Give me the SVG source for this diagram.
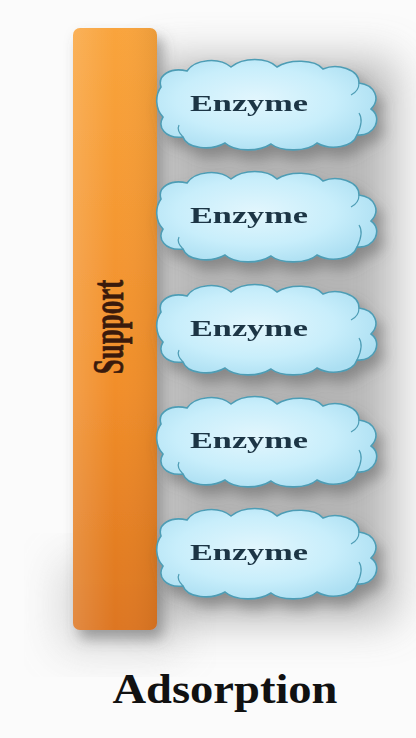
<svg xmlns="http://www.w3.org/2000/svg" width="416" height="738" viewBox="0 0 416 738">
<defs>
<style>
.enz{font-family:"Liberation Serif","DejaVu Serif",serif;font-weight:bold;font-size:24px;fill:#1C3545;}
.cloud{fill:url(#cg);stroke:#4E9DB5;stroke-width:1.6;}
.curl{fill:none;stroke:#4E9DB5;stroke-width:1.2;}
</style>
<linearGradient id="bar" x1="0" y1="0" x2="0" y2="1">
<stop offset="0" stop-color="#F9A43C"/>
<stop offset="0.6" stop-color="#F18E2A"/>
<stop offset="1" stop-color="#DD7620"/>
</linearGradient>
<linearGradient id="barh" x1="0" y1="0" x2="1" y2="0">
<stop offset="0" stop-color="#FFFFFF" stop-opacity="0.15"/>
<stop offset="0.5" stop-color="#FFFFFF" stop-opacity="0"/>
<stop offset="1" stop-color="#000000" stop-opacity="0.06"/>
</linearGradient>
<radialGradient id="cg" cx="0.45" cy="0.45" r="0.6">
<stop offset="0" stop-color="#E2F6FD"/>
<stop offset="0.6" stop-color="#C8EEFB"/>
<stop offset="1" stop-color="#ACDFF2"/>
</radialGradient>
<filter id="sh" x="-20%" y="-20%" width="150%" height="160%">
<feDropShadow dx="6" dy="9" stdDeviation="7" flood-color="#555" flood-opacity="0.5"/>
</filter>
<filter id="blur" x="-30%" y="-30%" width="160%" height="160%">
<feGaussianBlur stdDeviation="22"/>
</filter>
<path id="cloudp" d="M 4,30 C 0,18 14,10 30,14 C 38,2 62,0 74,10 C 86,0 110,0 120,10 C 132,2 158,2 166,12 C 180,6 202,12 202,26 C 218,28 224,42 214,52 C 226,60 218,80 200,78 C 196,90 174,94 160,86 C 150,95 124,95 114,87 C 102,95 78,95 68,86 C 54,94 30,92 26,80 C 8,82 0,70 6,60 C -2,52 -2,38 4,30 Z"/>
<g id="cloud">
<use href="#cloudp" class="cloud"/>
<path class="curl" d="M 200,78 C 204,70 206,62 202,56"/>
<path class="curl" d="M 202,26 C 202,32 198,36 194,38"/>
<path class="curl" d="M 26,80 C 22,76 20,72 22,68"/>
</g>
</defs>
<rect width="416" height="738" fill="#FBFBFB"/>
<rect x="150" y="60" width="245" height="560" fill="#A0A0A0" opacity="0.75" filter="url(#blur)"/>
<rect x="60" y="560" width="120" height="90" fill="#9A9A9A" opacity="0.35" filter="url(#blur)"/>

<g id="support">
<rect x="73" y="28" width="84" height="602" rx="7" fill="url(#bar)" filter="url(#sh)"/>
<rect x="73" y="28" width="84" height="602" rx="7" fill="url(#barh)"/>
<text transform="translate(123,327) scale(1.65,1) rotate(-90)" text-anchor="middle" font-family="Liberation Serif, DejaVu Serif, serif" font-weight="bold" font-size="27" fill="#3A1A0C" stroke="#3A1A0C" stroke-width="0.4">Support</text>
</g>

<g id="connectors"></g>

<g id="enzyme1" filter="url(#sh)">
<use href="#cloud" transform="translate(157,57)"/>
<text class="enz" x="249" y="111" text-anchor="middle" textLength="118" lengthAdjust="spacingAndGlyphs">Enzyme</text>
</g>
<g id="enzyme2" filter="url(#sh)">
<use href="#cloud" transform="translate(157,169)"/>
<text class="enz" x="249" y="223" text-anchor="middle" textLength="118" lengthAdjust="spacingAndGlyphs">Enzyme</text>
</g>
<g id="enzyme3" filter="url(#sh)">
<use href="#cloud" transform="translate(157,282)"/>
<text class="enz" x="249" y="336" text-anchor="middle" textLength="118" lengthAdjust="spacingAndGlyphs">Enzyme</text>
</g>
<g id="enzyme4" filter="url(#sh)">
<use href="#cloud" transform="translate(157,394)"/>
<text class="enz" x="249" y="448" text-anchor="middle" textLength="118" lengthAdjust="spacingAndGlyphs">Enzyme</text>
</g>
<g id="enzyme5" filter="url(#sh)">
<use href="#cloud" transform="translate(157,506)"/>
<text class="enz" x="249" y="560" text-anchor="middle" textLength="118" lengthAdjust="spacingAndGlyphs">Enzyme</text>
</g>

<text x="225" y="703" text-anchor="middle" textLength="225" lengthAdjust="spacingAndGlyphs" font-family="Liberation Serif, DejaVu Serif, serif" font-weight="bold" font-size="42" fill="#111111">Adsorption</text>
</svg>
